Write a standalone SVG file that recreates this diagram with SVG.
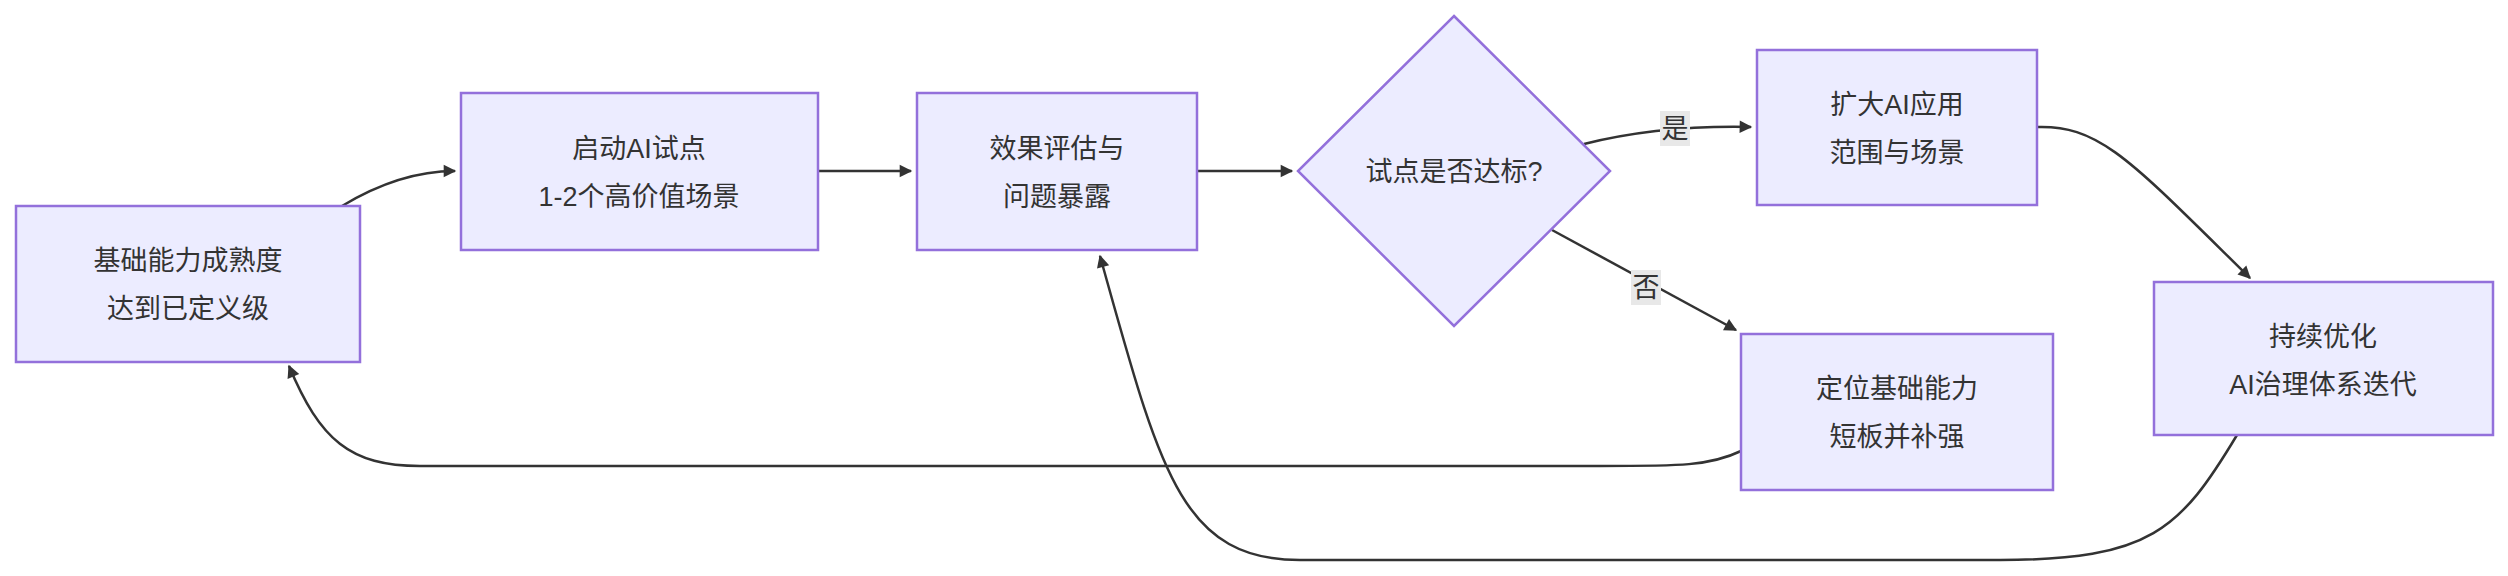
<svg xmlns="http://www.w3.org/2000/svg" width="2508" height="576" viewBox="0 0 2508 576">
<style>
.n{fill:#ECECFF;stroke:#9370DB;stroke-width:2.5}
.t{font-family:"Liberation Sans","Noto Sans CJK SC",sans-serif;font-size:27px;fill:#333;text-anchor:middle}
.e{fill:none;stroke:#333;stroke-width:2.5}
.lb{fill:#e8e8e8}
</style>
<defs><marker id="a" viewBox="0 0 10 10" refX="9" refY="5" markerWidth="7" markerHeight="7" orient="auto-start-reverse" markerUnits="userSpaceOnUse" style="overflow:visible"><path d="M0,0L10,5L0,10z" fill="#333" transform="scale(1.8) translate(-4,-2.2)"/></marker></defs>
<g id="edges">
<path class="e" d="M342,206 Q400,171 455,171" marker-end="url(#a)"/>
<path class="e" d="M818,171 L911,171" marker-end="url(#a)"/>
<path class="e" d="M1197,171 L1292,171" marker-end="url(#a)"/>
<path class="e" d="M1584,144 Q1660,125 1751,127" marker-end="url(#a)"/>
<path class="e" d="M1552,230 L1736,330" marker-end="url(#a)"/>
<path class="e" d="M2037,127 C2100,125 2130,160 2250,278" marker-end="url(#a)"/>
<path class="e" d="M1741,451 C1710,466 1680,466 1600,466 L420,466 C350,466 320,440 289,366" marker-end="url(#a)"/>
<path class="e" d="M2237,435 C2180,530 2150,560 2000,560 L1300,560 C1180,560 1160,470 1100,256" marker-end="url(#a)"/>
<rect class="lb" x="1660" y="111" width="30" height="35"/>
<text class="t" x="1675" y="138">是</text>
<rect class="lb" x="1631" y="270" width="30" height="35"/>
<text class="t" x="1646" y="297">否</text>
</g>
<g id="A"><rect class="n" x="16" y="206" width="344" height="156"/><text class="t" x="188" y="270">基础能力成熟度</text><text class="t" x="188" y="318">达到已定义级</text></g>
<g id="B"><rect class="n" x="461" y="93" width="357" height="157"/><text class="t" x="639" y="158">启动AI试点</text><text class="t" x="639" y="206">1-2个高价值场景</text></g>
<g id="C"><rect class="n" x="917" y="93" width="280" height="157"/><text class="t" x="1057" y="158">效果评估与</text><text class="t" x="1057" y="206">问题暴露</text></g>
<g id="D"><path class="n" d="M1454,16 L1610,171 L1454,326 L1298,171z"/><text class="t" x="1454" y="181">试点是否达标?</text></g>
<g id="E"><rect class="n" x="1757" y="50" width="280" height="155"/><text class="t" x="1897" y="114">扩大AI应用</text><text class="t" x="1897" y="162">范围与场景</text></g>
<g id="F"><rect class="n" x="1741" y="334" width="312" height="156"/><text class="t" x="1897" y="398">定位基础能力</text><text class="t" x="1897" y="446">短板并补强</text></g>
<g id="G"><rect class="n" x="2154" y="282" width="339" height="153"/><text class="t" x="2323" y="346">持续优化</text><text class="t" x="2323" y="394">AI治理体系迭代</text></g>
</svg>
